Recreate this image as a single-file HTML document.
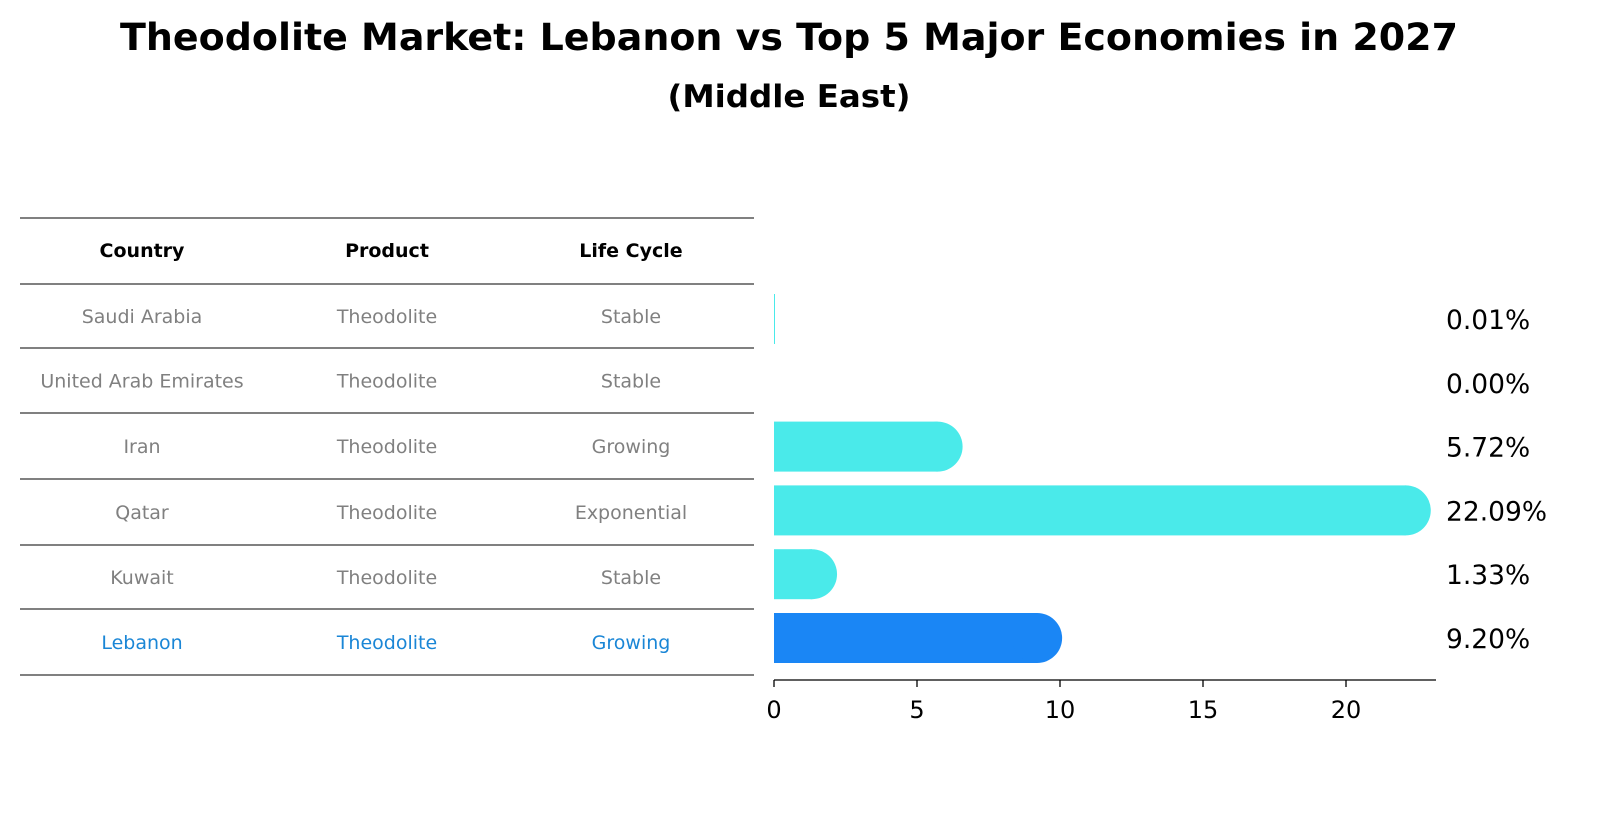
<!DOCTYPE html>
<html><head><meta charset="utf-8">
<style>
body{margin:0;width:1604px;height:823px;background:#fff;font-family:"Liberation Sans","DejaVu Sans",sans-serif;overflow:hidden}
</style></head>
<body>
<svg width="1604" height="823" xmlns="http://www.w3.org/2000/svg" id="chart">
<text x="789" y="50" text-anchor="middle" font-size="37" font-weight="bold" textLength="1338" lengthAdjust="spacingAndGlyphs" font-family="DejaVu Sans, sans-serif">Theodolite Market: Lebanon vs Top 5 Major Economies in 2027</text>
<text x="789" y="107" text-anchor="middle" font-size="31" font-weight="bold" textLength="243" lengthAdjust="spacingAndGlyphs" font-family="DejaVu Sans, sans-serif">(Middle East)</text>
<g id="table"></g>
<g id="bars"></g>
<g id="xaxis"></g>
</svg>
<script>
const countries=["Saudi Arabia","United Arab Emirates","Iran","Qatar","Kuwait","Lebanon"];
const products=["Theodolite","Theodolite","Theodolite","Theodolite","Theodolite","Theodolite"];
const lifeCycles=["Stable","Stable","Growing","Exponential","Stable","Growing"];
const values=[0.01,0.00,5.72,22.09,1.33,9.20];
const xTicks=[0,5,10,15,20];
const NS="http://www.w3.org/2000/svg";
const x0=774,pxPerUnit=(1346-774)/20;
function xs(v){return x0+v*pxPerUnit;}
function rowY(i){return 319+i*63.8;}
function mk(tag,attrs,parent){const e=document.createElementNS(NS,tag);for(const k in attrs)e.setAttribute(k,attrs[k]);parent.appendChild(e);return e;}
const tbl=document.getElementById('table');
const lines=[218,284,348,413,479,545,609,675];
lines.forEach(y=>{const l=mk('line',{x1:20,x2:754,y1:y,y2:y,stroke:'#000','stroke-width':1},tbl);

});
const colX=[142,387,631];
["Country","Product","Life Cycle"].forEach((h,j)=>{const t=mk('text',{x:colX[j],y:257,'text-anchor':'middle','font-size':19,'font-weight':'bold','font-family':'DejaVu Sans, sans-serif'},tbl);t.textContent=h;

});
countries.forEach((c,i)=>{const y=(lines[i+1]+lines[i+2])/2+7;const col=i===5?'#1a86d6':'#808080';
[c,products[i],lifeCycles[i]].forEach((v,j)=>{const t=mk('text',{x:colX[j],y:y,'text-anchor':'middle','font-size':19,fill:col,'font-family':'DejaVu Sans, sans-serif'},tbl);t.textContent=v;

});});
const bars=document.getElementById('bars');const h=50;
values.forEach((v,i)=>{const cy=rowY(i);const col=i===5?'#1a86f5':'#4aeaea';const xe=xs(v);
if(v>0){const r=mk('rect',{x:x0,y:cy-h/2,width:Math.max(xe-x0,1),height:h,fill:col},bars);


if(v>0.5){const c=mk('circle',{cx:xe,cy:cy,r:h/2,fill:col},bars);

}}
const t=mk('text',{x:1446,y:cy+10,'font-size':26.5,'font-family':'DejaVu Sans, sans-serif'},bars);t.textContent=v.toFixed(2)+'%';

});
const ax=document.getElementById('xaxis');
const al=mk('line',{x1:x0,x2:1436,y1:680,y2:680,stroke:'#000','stroke-width':1.3},ax);


xTicks.forEach(v=>{const tk=mk('line',{x1:xs(v),x2:xs(v),y1:680,y2:687,stroke:'#000','stroke-width':1.3},ax);


const t=mk('text',{x:xs(v),y:718,'text-anchor':'middle','font-size':24,'font-family':'DejaVu Sans, sans-serif'},ax);t.textContent=v;

});
</script>
</body></html>
